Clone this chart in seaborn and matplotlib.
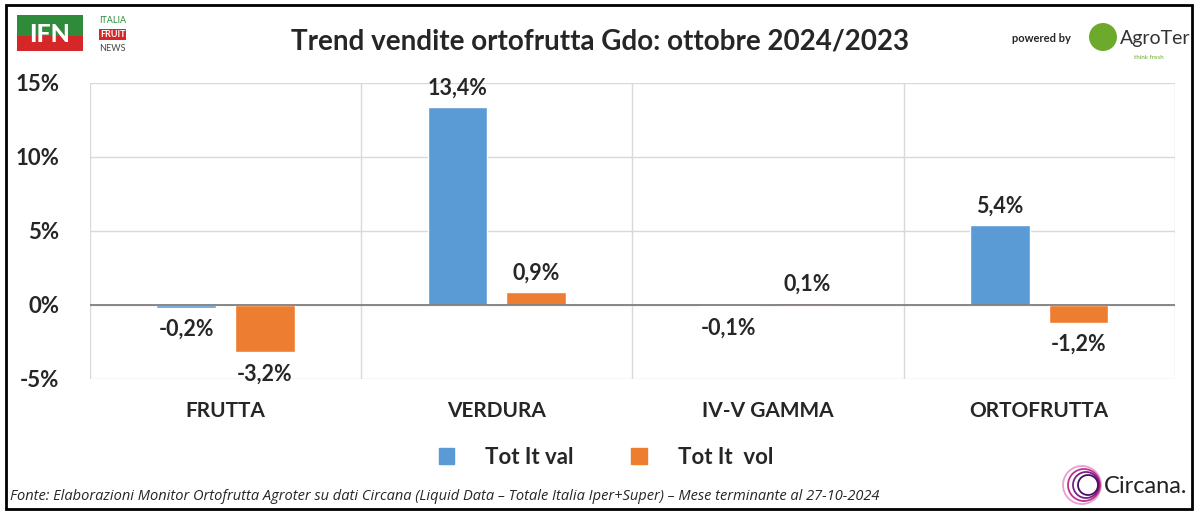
import pandas as pd
import matplotlib.pyplot as plt
import seaborn as sns
from matplotlib.patches import Rectangle, Ellipse
from matplotlib.ticker import FixedLocator

# Data
categories = ['FRUTTA', 'VERDURA', 'IV-V GAMMA', 'ORTOFRUTTA']
tot_val = [-0.2, 13.4, -0.1, 5.4]
tot_vol = [-3.2, 0.9, 0.1, -1.2]
series_names = ['Tot It val', 'Tot It  vol']
y_ticks = [-5, 0, 5, 10, 15]
colors = ['#5B9BD5', '#ED7D31']

title = 'Trend vendite ortofrutta Gdo: ottobre 2024/2023'
source = ('Fonte: Elaborazioni Monitor Ortofrutta Agroter su dati Circana '
          '(Liquid Data – Totale Italia Iper+Super) – Mese terminante al 27-10-2024')

df = pd.DataFrame({
    'categoria': categories * 2,
    'serie': [series_names[0]] * len(categories) + [series_names[1]] * len(categories),
    'valore': tot_val + tot_vol,
})

sns.set_theme(style='white')
plt.rcParams['font.family'] = ['Lato', 'DejaVu Sans']

W, H = 12, 5.12
fig = plt.figure(figsize=(W, H), dpi=100)
ax = fig.add_axes([0.075, 0.26, 0.904, 0.578])

sns.barplot(data=df, x='categoria', y='valore', hue='serie', order=categories,
            hue_order=series_names, palette=colors, width=0.58, gap=0.24,
            saturation=1, ax=ax, legend=False)

ax.set_ylim(-5, 15)
ax.set_xlim(-0.5, len(categories) - 0.5)
ax.set_yticks(y_ticks)
ax.set_yticklabels([f'{t}%' for t in y_ticks], fontsize=16, fontweight='bold')
ax.tick_params(axis='y', length=0, pad=22)
ax.tick_params(axis='x', length=0, pad=16)
ax.set_xticks(range(len(categories)))
ax.set_xticklabels(categories, fontsize=15, fontweight='bold')
ax.set_xlabel('')
ax.set_ylabel('')

# grid: horizontal at ticks, vertical at category boundaries
for t in y_ticks:
    ax.axhline(t, color='#D9D9D9', lw=1, zorder=0)
for b in [i - 0.5 for i in range(len(categories) + 1)]:
    ax.axvline(b, color='#D9D9D9', lw=1, zorder=0)
ax.axhline(0, color='#7F7F7F', lw=1.3, zorder=3)
for s in ax.spines.values():
    s.set_visible(False)

# value labels
for container in ax.containers:
    for bar in container:
        h = bar.get_height()
        x = bar.get_x() + bar.get_width() / 2
        txt = f'{h:.1f}%'.replace('.', ',')
        if h >= 0:
            ax.annotate(txt, (x, h), xytext=(0, 6), textcoords='offset points',
                        ha='center', va='bottom', fontsize=15.5, fontweight='bold')
        else:
            ax.annotate(txt, (x, h), xytext=(0, -8), textcoords='offset points',
                        ha='center', va='top', fontsize=15.5, fontweight='bold')

# legend
handles = [Rectangle((0, 0), 1, 1, color=c) for c in colors]
fig.legend(handles, series_names, loc='center', bbox_to_anchor=(0.505, 0.107),
           ncol=2, frameon=False, prop={'weight': 'bold', 'size': 16},
           handlelength=0.7, handleheight=0.7, handletextpad=1.4, columnspacing=2.6)

# title
fig.text(0.5, 0.918, title, ha='center', va='center', fontsize=20, fontweight='bold')

# source note
fig.text(0.008, 0.03, source, ha='left', va='center', fontsize=10.5, style='italic',
         family=['Liberation Sans Narrow', 'Open Sans', 'DejaVu Sans'])


def circle(cx, cy, r_px, **kw):
    # circle in figure coords, radius given in pixels
    return Ellipse((cx, cy), 2 * r_px / (W * 100), 2 * r_px / (H * 100),
                   transform=fig.transFigure, **kw)


# IFN logo (simplified)
fig.patches.append(Rectangle((0.014, 0.93), 0.055, 0.04, transform=fig.transFigure,
                             fc='#2E8B3A', ec='none'))
fig.patches.append(Rectangle((0.014, 0.9), 0.055, 0.03, transform=fig.transFigure,
                             fc='#D62728', ec='none'))
fig.text(0.0415, 0.933, 'IFN', ha='center', va='center', fontsize=18, fontweight='black',
         color='white')
fig.text(0.094, 0.96, 'ITALIA', ha='center', va='center', fontsize=6.5, color='#2E8B3A')
fig.text(0.094, 0.933, 'FRUIT', ha='center', va='center', fontsize=6.5, color='white',
         fontweight='bold', bbox=dict(fc='#D62728', ec='none', pad=0.6))
fig.text(0.094, 0.905, 'NEWS', ha='center', va='center', fontsize=6.5, color='#444444')

# AgroTer logo (simplified)
fig.text(0.868, 0.925, 'powered by', ha='center', va='center', fontsize=8, fontweight='bold')
fig.patches.append(circle(1103 / 1200, 1 - 37 / 512, 14, fc='#6DAA2C', ec='none'))
fig.text(0.933, 0.925, 'AgroTer', ha='left', va='center', fontsize=14, color='#333333')
fig.text(0.945, 0.888, 'think fresh', ha='left', va='center', fontsize=4.5, color='#6DAA2C')

# Circana logo (simplified)
for i, c in enumerate(['#E8A0D0', '#C03090', '#7A1F8A', '#4A1060']):
    fig.patches.append(circle((1082 + i * 2) / 1200, 1 - 485 / 512, 19 - i * 3,
                              fc='none', ec=c, lw=1.3))
fig.text(0.92, 0.05, 'Circana.', ha='left', va='center', fontsize=17, color='#222222')

# outer frame
fig.patches.append(Rectangle((0.005, 0.006), 0.988, 0.984, transform=fig.transFigure,
                             fc='none', ec='black', lw=2))

fig.savefig('out.png', dpi=100, facecolor='white')
